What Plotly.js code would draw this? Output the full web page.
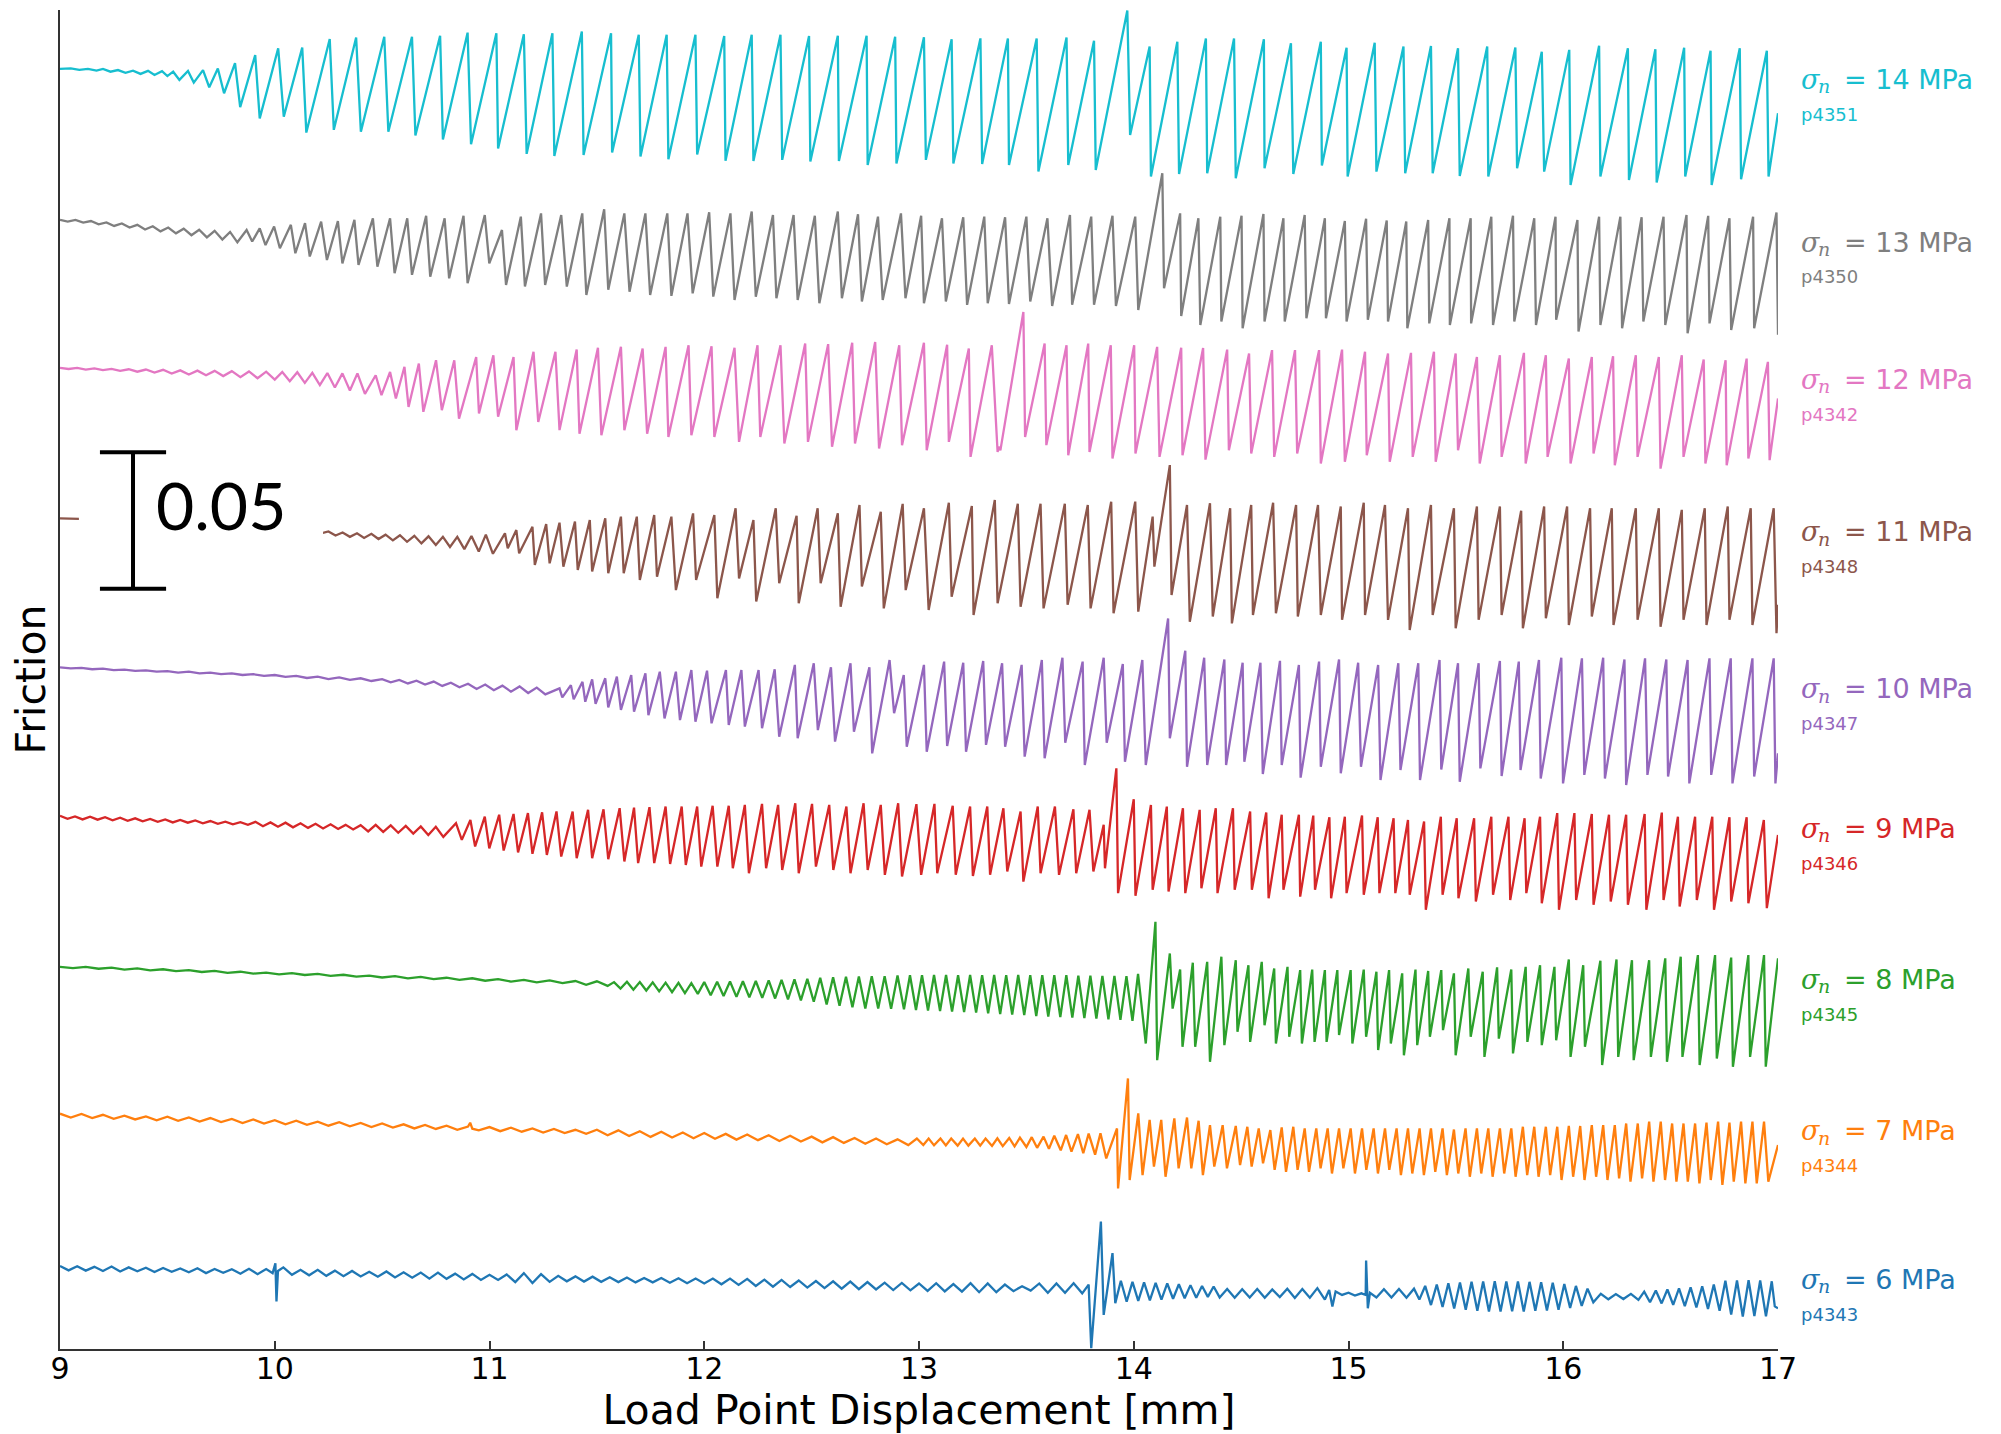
<!DOCTYPE html>
<html><head><meta charset="utf-8">
<script src="https://cdn.plot.ly/plotly-3.0.1.min.js"></script>
<style>html,body{margin:0;padding:0;background:#fff;}#chart{width:2001px;height:1434px;}</style>
</head><body><div id="chart"></div>
<script>
// Normal stress (MPa) and experiment id of each run, top to bottom
const normalStress = [14, 13, 12, 11, 10, 9, 8, 7, 6];
const experimentIds = ['p4351', 'p4350', 'p4342', 'p4348', 'p4347', 'p4346', 'p4345', 'p4344', 'p4343'];
// Friction level (offset curve) at 9 mm for each run
const baseFriction = [0.4689, 0.4136, 0.3594, 0.3043, 0.2497, 0.1948, 0.1400, 0.0857, 0.0296];
const tickValues = [9, 10, 11, 12, 13, 14, 15, 16, 17];

// Each run: [displacement mm, friction change x1000, ...] pairs
const s14 = [9.000,0, 9.05,0.2, 9.09,-0.3, 9.13,0, 9.17,-0.6, 9.20,0, 9.235,-1.0, 9.27,-0.4, 9.305,-1.4, 9.34,-0.6, 9.375,-1.8, 9.41,-0.7, 9.44,-2.2, 9.475,-0.8, 9.50,-2.6,
9.527,-1.0, 9.556,-4.0, 9.596,-0.7, 9.623,-5.0, 9.666,-0.4, 9.695,-6.7, 9.735,0.2, 9.764,-8.9, 9.815,2.1, 9.839,-14.0, 9.909,5.1, 9.930,-18.1, 10.016,7.6, 10.042,-17.5, 10.128,7.8, 10.147,-23.3, 10.256,11.0, 10.275,-22.3, 10.379,11.5, 10.401,-23.0, 10.510,11.8, 10.529,-23.0, 10.639,11.8, 10.655,-24.4, 10.770,12.2, 10.783,-25.8, 10.898,13.3, 10.914,-27.6, 11.032,13.1, 11.040,-29.1, 11.160,12.7, 11.173,-31.1, 11.293,13.1, 11.302,-31.9, 11.430,13.7, 11.438,-31.5, 11.566,13.1, 11.571,-30.6, 11.695,12.5, 11.703,-32.1, 11.825,12.5, 11.833,-33.1, 11.959,12.5, 11.967,-31.3, 12.093,12.1, 12.099,-33.6, 12.221,12.5, 12.229,-33.7, 12.355,12.5, 12.363,-33.3, 12.488,12.1, 12.494,-33.9, 12.622,12.2, 12.627,-33.7, 12.756,12.2, 12.761,-35.2, 12.889,11.8, 12.895,-34.6, 13.023,11.6, 13.032,-33.3, 13.152,10.9, 13.160,-34.6, 13.286,11.2, 13.294,-34.8, 13.414,11.2, 13.419,-35.2, 13.548,11.2, 13.556,-37.6, 13.687,11.5, 13.695,-35.2, 13.815,10.3, 13.823,-37.0, 13.970,21.4, 13.983,-24.2, 14.074,8.2, 14.080,-39.4, 14.203,10.0, 14.211,-38.5, 14.336,11.2, 14.342,-38.2, 14.467,11.2, 14.475,-40.0, 14.606,10.9, 14.609,-36.4, 14.732,9.4, 14.743,-38.5, 14.871,10.0, 14.876,-35.4, 14.991,7.8, 14.996,-39.4, 15.122,9.6, 15.130,-37.6, 15.256,8.2, 15.264,-38.2, 15.384,8.4, 15.392,-38.2, 15.510,7.6, 15.518,-39.2, 15.646,8.2, 15.651,-39.4, 15.777,7.9, 15.785,-36.4, 15.900,6.3, 15.911,-37.6, 16.028,7.0, 16.034,-42.5, 16.167,8.5, 16.173,-39.4, 16.301,7.6, 16.306,-40.7, 16.429,7.2, 16.435,-41.6, 16.563,7.8, 16.568,-39.4, 16.686,6.7, 16.691,-42.5, 16.822,7.6, 16.828,-40.4, 16.948,6.7, 16.956,-39.4, 17.000,-16.2];

const s13 = [9.000,0, 9.036,-0.6, 9.072,0, 9.108,-1.0, 9.144,-0.4, 9.180,-1.6, 9.216,-0.9, 9.252,-2.2, 9.288,-1.3, 9.324,-2.8, 9.360,-1.8, 9.396,-3.5, 9.432,-2.3, 9.468,-4.2, 9.504,-2.8, 9.540,-4.9, 9.576,-3.2, 9.612,-5.6, 9.648,-3.6, 9.684,-6.4, 9.720,-4.0, 9.756,-7.2, 9.792,-4.4, 9.826,-8.2,
9.869,-3.7, 9.895,-7.9, 9.930,-3.1, 9.957,-9.2, 9.997,-2.4, 10.024,-10.4, 10.075,-1.8, 10.096,-12.2, 10.141,-1.2, 10.163,-13.4, 10.216,-0.6, 10.243,-14.7, 10.294,-0.4, 10.315,-15.9, 10.371,0, 10.390,-16.5, 10.457,0.6, 10.478,-17.1, 10.537,0.6, 10.558,-19.5, 10.617,0.6, 10.639,-20.1, 10.705,1.5, 10.724,-20.8, 10.791,0.6, 10.812,-21.4, 10.879,1.5, 10.898,-23.2, 10.978,1.8, 10.999,-15.9, 11.058,-3.7, 11.077,-23.8, 11.146,1.2, 11.165,-24.4, 11.240,2.4, 11.259,-23.8, 11.334,1.8, 11.360,-24.4, 11.432,2.4, 11.451,-27.5, 11.534,3.9, 11.553,-25.6, 11.628,2.4, 11.652,-26.3, 11.726,2.4, 11.748,-27.5, 11.828,2.4, 11.847,-27.8, 11.922,2.4, 11.946,-26.9, 12.023,2.8, 12.042,-28.1, 12.122,2.4, 12.141,-29.3, 12.221,3.1, 12.240,-28.1, 12.320,1.8, 12.336,-28.7, 12.416,1.8, 12.435,-29.3, 12.515,1.5, 12.536,-30.5, 12.622,3.1, 12.641,-28.7, 12.716,2.1, 12.734,-29.9, 12.809,1.2, 12.831,-29.3, 12.916,2.4, 12.937,-28.7, 13.010,1.5, 13.023,-30.5, 13.107,0.6, 13.125,-29.9, 13.206,1.0, 13.224,-31.1, 13.304,1.2, 13.320,-30.5, 13.401,1.0, 13.419,-30.8, 13.500,1.2, 13.518,-29.9, 13.598,0.6, 13.620,-31.5, 13.703,1.8, 13.713,-31.1, 13.802,1.2, 13.815,-31.1, 13.901,1.5, 13.917,-31.5, 14.007,1.2, 14.021,-33.0, 14.133,17.1, 14.141,-25.0, 14.216,2.4, 14.221,-35.2, 14.301,0.6, 14.310,-38.5, 14.403,1.2, 14.408,-37.2, 14.502,1.5, 14.507,-39.7, 14.604,2.2, 14.609,-37.2, 14.697,0.6, 14.703,-37.2, 14.796,1.8, 14.804,-36.0, 14.890,0.6, 14.895,-36.0, 14.983,-0.4, 14.991,-37.2, 15.082,0.4, 15.090,-36.6, 15.178,-0.2, 15.184,-37.2, 15.269,-0.6, 15.274,-39.7, 15.371,0, 15.376,-37.9, 15.470,0.6, 15.472,-38.5, 15.569,0.6, 15.571,-37.9, 15.665,1.2, 15.673,-38.5, 15.766,1.5, 15.772,-37.2, 15.865,0.6, 15.873,-38.5, 15.964,1.2, 15.967,-36.6, 16.066,0, 16.071,-40.9, 16.167,1.2, 16.173,-38.5, 16.266,1.2, 16.274,-39.7, 16.365,1.0, 16.373,-37.2, 16.467,1.2, 16.475,-38.5, 16.574,1.8, 16.579,-41.5, 16.675,1.5, 16.681,-37.9, 16.774,0.6, 16.782,-40.3, 16.884,1.2, 16.889,-39.7, 16.993,2.7, 17.000,-42.1];

const s12 = [9.00,0, 9.04,-0.4, 9.08,0, 9.12,-0.6, 9.16,-0.2, 9.20,-0.8, 9.24,-0.4, 9.28,-1.1, 9.32,-0.5, 9.36,-1.4, 9.40,-0.6, 9.44,-1.7, 9.48,-0.7, 9.52,-2.1, 9.56,-0.9, 9.60,-2.4, 9.64,-1.0, 9.68,-2.7, 9.72,-1.1, 9.76,-3.0, 9.80,-1.2, 9.84,-3.4, 9.88,-1.3, 9.92,-3.8, 9.96,-1.4, 10.00,-4.3, 10.035,-1.5, 10.07,-4.9, 10.105,-1.6, 10.14,-5.5, 10.175,-1.8, 10.21,-6.3, 10.245,-1.9, 10.28,-7.2, 10.315,-2.0, 10.35,-8.3, 10.385,-2.0, 10.42,-9.5,
10.470,-2.7, 10.497,-10.0, 10.537,-1.5, 10.564,-11.2, 10.604,0.4, 10.623,-14.3, 10.671,1.6, 10.692,-16.1, 10.751,2.8, 10.778,-15.5, 10.836,2.8, 10.858,-18.6, 10.938,4.0, 10.951,-16.7, 11.018,4.6, 11.040,-17.9, 11.112,4.0, 11.125,-22.8, 11.205,5.9, 11.227,-19.8, 11.307,5.9, 11.326,-22.8, 11.406,6.7, 11.419,-24.1, 11.505,7.4, 11.521,-24.7, 11.612,7.7, 11.628,-22.8, 11.713,7.1, 11.734,-24.1, 11.820,7.7, 11.833,-25.3, 11.927,8.3, 11.940,-24.7, 12.034,7.9, 12.047,-25.3, 12.141,7.4, 12.162,-27.1, 12.248,8.3, 12.261,-25.3, 12.355,8.3, 12.373,-27.7, 12.470,8.9, 12.483,-27.1, 12.577,8.7, 12.595,-28.9, 12.689,9.2, 12.702,-27.7, 12.796,9.5, 12.814,-29.5, 12.908,8.3, 12.921,-28.3, 13.023,9.2, 13.036,-30.2, 13.131,8.5, 13.139,-27.1, 13.232,7.1, 13.240,-32.6, 13.339,8.3, 13.366,-30.8, 13.371,-28.9, 13.379,-30.2, 13.486,20.5, 13.494,-25.3, 13.585,8.9, 13.593,-28.3, 13.687,8.3, 13.695,-32.0, 13.788,8.9, 13.794,-30.8, 13.893,8.3, 13.901,-33.2, 14.002,8.3, 14.008,-31.4, 14.109,7.7, 14.120,-32.6, 14.221,7.4, 14.227,-32.0, 14.323,7.3, 14.334,-33.6, 14.435,6.7, 14.443,-30.2, 14.537,5.3, 14.547,-31.4, 14.644,6.5, 14.654,-32.6, 14.751,6.5, 14.761,-31.4, 14.863,6.5, 14.871,-35.0, 14.970,6.7, 14.983,-34.4, 15.077,5.9, 15.085,-32.0, 15.184,5.3, 15.192,-34.4, 15.291,5.5, 15.299,-32.6, 15.398,5.9, 15.406,-34.4, 15.499,5.3, 15.510,-30.2, 15.598,4.0, 15.611,-35.0, 15.705,4.6, 15.713,-32.6, 15.817,5.5, 15.825,-35.0, 15.919,4.6, 15.927,-32.6, 16.026,3.4, 16.034,-35.0, 16.133,4.0, 16.141,-31.4, 16.232,4.3, 16.240,-35.7, 16.338,4.6, 16.346,-32.6, 16.445,4.0, 16.453,-36.9, 16.552,4.6, 16.560,-32.6, 16.654,3.1, 16.662,-35.0, 16.756,2.8, 16.761,-35.7, 16.854,3.4, 16.862,-33.2, 16.953,2.2, 16.961,-33.8, 17.000,-11.2];

const s11 = [9.000,0, 9.09,-0.2, 9.6,-2.5, 10.216,-5.5, 10.25,-4.8, 10.283,-6.3, 10.316,-5.2, 10.35,-6.8, 10.383,-5.5, 10.416,-7.2, 10.45,-5.7, 10.483,-7.6, 10.516,-6.0, 10.55,-8.1, 10.583,-6.2, 10.616,-8.6, 10.65,-6.4, 10.683,-9.2, 10.716,-6.6, 10.75,-9.8, 10.783,-6.8, 10.816,-10.5, 10.85,-6.8, 10.883,-11.3, 10.916,-6.5, 10.95,-12.2, 10.983,-6.0, 11.016,-13.0,
11.072,-5.5, 11.085,-11.0, 11.125,-4.3, 11.138,-12.8, 11.200,-3.1, 11.211,-17.1, 11.264,-2.1, 11.280,-16.5, 11.326,-1.6, 11.344,-17.7, 11.398,-1.2, 11.411,-18.9, 11.467,-0.6, 11.478,-19.5, 11.539,0, 11.553,-20.1, 11.612,0.6, 11.625,-20.1, 11.686,0.6, 11.700,-22.6, 11.767,1.2, 11.780,-21.4, 11.847,0.6, 11.868,-26.3, 11.948,1.8, 11.962,-22.6, 12.047,1.2, 12.061,-29.3, 12.146,3.7, 12.162,-22.0, 12.229,-0.6, 12.242,-30.5, 12.333,3.7, 12.349,-23.8, 12.430,0.9, 12.440,-31.1, 12.528,3.7, 12.542,-23.8, 12.622,1.8, 12.635,-32.4, 12.723,4.9, 12.734,-25.0, 12.822,2.4, 12.836,-33.0, 12.924,5.3, 12.938,-26.3, 13.023,3.7, 13.045,-33.6, 13.139,5.7, 13.152,-28.7, 13.246,4.5, 13.254,-35.4, 13.353,6.7, 13.366,-31.1, 13.460,5.3, 13.473,-32.4, 13.566,5.3, 13.580,-33.0, 13.679,5.3, 13.692,-31.7, 13.786,4.9, 13.799,-33.0, 13.895,6.1, 13.906,-34.8, 14.007,6.1, 14.021,-34.2, 14.088,0.6, 14.096,-17.7, 14.168,19.5, 14.176,-28.1, 14.248,4.9, 14.261,-37.9, 14.355,5.5, 14.368,-36.0, 14.449,3.7, 14.457,-38.5, 14.547,4.9, 14.555,-35.4, 14.649,5.7, 14.662,-34.8, 14.756,4.9, 14.764,-36.0, 14.858,4.9, 14.871,-35.4, 14.964,4.3, 14.970,-37.2, 15.071,5.7, 15.077,-35.4, 15.170,4.9, 15.184,-37.2, 15.277,3.7, 15.285,-40.9, 15.384,4.9, 15.392,-35.4, 15.491,3.7, 15.499,-40.3, 15.598,4.3, 15.606,-37.2, 15.705,4.3, 15.713,-35.4, 15.804,2.8, 15.812,-40.3, 15.911,4.3, 15.919,-36.6, 16.018,4.3, 16.026,-39.1, 16.125,3.7, 16.133,-36.0, 16.226,3.7, 16.234,-39.1, 16.338,3.7, 16.346,-37.2, 16.445,3.7, 16.453,-39.7, 16.552,3.1, 16.560,-37.2, 16.659,3.7, 16.667,-39.1, 16.766,4.3, 16.774,-37.2, 16.873,3.7, 16.881,-39.1, 16.980,3.7, 16.993,-42.1, 17.000,-31.7];

const s10 = [9.00,0, 9.05,-0.4, 9.10,-0.2, 9.15,-0.7, 9.20,-0.5, 9.25,-1.0, 9.30,-0.8, 9.35,-1.3, 9.40,-1.1, 9.45,-1.6, 9.50,-1.4, 9.55,-1.9, 9.60,-1.6, 9.65,-2.2, 9.70,-1.9, 9.75,-2.5, 9.80,-2.2, 9.85,-2.8, 9.90,-2.5, 9.95,-3.1, 10.00,-2.8, 10.05,-3.5, 10.10,-3.1, 10.15,-3.9, 10.20,-3.4, 10.25,-4.3, 10.30,-3.7, 10.35,-4.6, 10.40,-4.0, 10.45,-5.0, 10.50,-4.3, 10.54,-5.5, 10.58,-4.6, 10.62,-5.9, 10.66,-4.9, 10.70,-6.3, 10.74,-5.2, 10.78,-6.8, 10.82,-5.6, 10.86,-7.3, 10.90,-6.0, 10.94,-7.9, 10.98,-6.3, 11.02,-8.4, 11.06,-6.7, 11.10,-8.9, 11.14,-7.0, 11.18,-9.4, 11.22,-7.4, 11.26,-9.9,
11.326,-7.7, 11.339,-11.0, 11.379,-6.5, 11.392,-11.7, 11.433,-5.3, 11.446,-12.6, 11.478,-4.4, 11.494,-13.4, 11.539,-4.0, 11.553,-14.7, 11.593,-3.4, 11.612,-15.6, 11.660,-2.8, 11.673,-16.2, 11.726,-2.2, 11.740,-17.5, 11.793,-1.6, 11.815,-18.7, 11.868,-1.6, 11.887,-19.3, 11.940,-1.0, 11.959,-19.9, 12.013,-1.2, 12.034,-20.5, 12.101,-1.0, 12.114,-21.1, 12.173,-1.0, 12.189,-21.7, 12.253,-1.0, 12.269,-22.3, 12.328,-0.7, 12.349,-25.4, 12.422,0.9, 12.435,-26.0, 12.510,1.5, 12.529,-23.0, 12.590,0, 12.609,-27.2, 12.681,1.5, 12.697,-23.6, 12.769,0, 12.782,-31.5, 12.863,2.7, 12.884,-16.8, 12.929,-2.8, 12.943,-29.1, 13.023,0.9, 13.036,-30.9, 13.117,2.1, 13.131,-28.8, 13.206,1.7, 13.219,-30.9, 13.299,2.3, 13.312,-28.4, 13.387,1.5, 13.401,-29.1, 13.478,0.9, 13.492,-32.7, 13.572,2.7, 13.585,-33.3, 13.668,3.5, 13.681,-27.6, 13.762,2.1, 13.772,-35.8, 13.860,3.5, 13.874,-27.6, 13.949,1.2, 13.959,-34.6, 14.040,2.7, 14.056,-35.8, 14.160,17.9, 14.168,-26.0, 14.240,6.1, 14.248,-36.4, 14.328,3.5, 14.342,-35.8, 14.422,2.9, 14.430,-35.8, 14.507,1.7, 14.515,-34.6, 14.590,1.7, 14.601,-39.1, 14.681,2.4, 14.689,-35.8, 14.769,0.9, 14.777,-40.4, 14.863,2.1, 14.871,-36.4, 14.956,2.9, 14.964,-38.8, 15.045,1.7, 15.058,-36.4, 15.138,0.9, 15.149,-41.3, 15.232,1.5, 15.242,-37.6, 15.325,1.5, 15.333,-41.3, 15.424,2.7, 15.432,-37.4, 15.510,1.5, 15.518,-41.9, 15.606,1.5, 15.614,-37.0, 15.705,2.3, 15.713,-39.8, 15.793,2.1, 15.801,-37.6, 15.887,2.7, 15.895,-40.7, 15.991,3.5, 15.999,-42.5, 16.087,3.3, 16.098,-39.4, 16.186,3.5, 16.194,-40.7, 16.285,2.9, 16.293,-43.1, 16.381,3.3, 16.392,-39.4, 16.480,2.9, 16.488,-40.0, 16.579,2.7, 16.587,-42.5, 16.681,3.3, 16.689,-39.4, 16.780,3.3, 16.788,-42.5, 16.881,3.3, 16.889,-40.0, 16.980,3.3, 16.988,-42.5, 17.000,-31.5];

const s9 = [9.000,0.5, 9.035,-0.6, 9.070,0.3, 9.105,-0.8, 9.140,0.2, 9.175,-0.9, 9.210,0, 9.245,-1.1, 9.280,-0.2, 9.315,-1.3, 9.350,-0.4, 9.385,-1.5, 9.420,-0.6, 9.455,-1.7, 9.490,-0.8, 9.525,-1.9, 9.560,-1.0, 9.595,-2.0, 9.630,-1.2, 9.665,-2.2, 9.700,-1.4, 9.735,-2.4, 9.770,-1.6, 9.805,-2.6, 9.840,-1.8, 9.875,-2.8, 9.910,-1.7, 9.945,-3.3, 9.980,-1.9, 10.015,-3.5, 10.050,-2.0, 10.085,-3.7, 10.120,-2.2, 10.155,-3.9, 10.190,-2.4, 10.225,-4.1, 10.260,-2.6, 10.295,-4.3, 10.330,-2.8, 10.365,-4.5, 10.400,-2.9, 10.435,-5.2, 10.470,-2.8, 10.505,-5.4, 10.540,-3.0, 10.575,-5.7, 10.610,-3.2, 10.645,-6.0, 10.680,-3.4, 10.715,-6.5, 10.750,-3.5, 10.785,-7.2,
10.844,-2.2, 10.871,-8.3, 10.911,-1.0, 10.933,-10.7, 10.978,0.2, 10.999,-11.4, 11.045,0.9, 11.066,-12.2, 11.112,1.2, 11.133,-12.9, 11.179,1.5, 11.200,-13.4, 11.245,1.8, 11.267,-13.8, 11.312,2.1, 11.334,-14.4, 11.387,2.1, 11.406,-15.0, 11.459,2.7, 11.478,-15.0, 11.531,2.9, 11.553,-15.4, 11.606,3.3, 11.628,-16.2, 11.673,3.5, 11.692,-16.8, 11.745,3.7, 11.767,-16.8, 11.820,3.9, 11.841,-17.1, 11.895,3.9, 11.914,-17.5, 11.967,3.9, 11.986,-18.1, 12.039,4.2, 12.061,-18.1, 12.114,4.2, 12.133,-18.7, 12.189,4.5, 12.208,-20.5, 12.269,4.9, 12.288,-18.7, 12.344,4.5, 12.363,-19.3, 12.424,5.1, 12.440,-20.5, 12.502,4.9, 12.520,-18.1, 12.582,4.5, 12.601,-19.3, 12.662,3.9, 12.681,-20.5, 12.742,5.1, 12.761,-19.3, 12.822,4.5, 12.841,-21.1, 12.903,5.1, 12.921,-21.7, 12.988,4.8, 13.010,-21.1, 13.072,4.9, 13.085,-20.5, 13.157,4.2, 13.171,-21.1, 13.238,3.9, 13.251,-21.5, 13.318,3.9, 13.331,-21.1, 13.393,3.3, 13.411,-19.9, 13.473,2.1, 13.486,-23.6, 13.553,3.9, 13.566,-20.5, 13.633,3.9, 13.652,-21.1, 13.719,2.9, 13.732,-20.5, 13.794,2.7, 13.812,-19.9, 13.860,-2.8, 13.866,-18.7, 13.919,17.9, 13.927,-27.8, 14.000,6.6, 14.008,-28.8, 14.080,4.5, 14.088,-26.6, 14.154,3.9, 14.162,-27.2, 14.229,3.3, 14.240,-27.8, 14.307,2.7, 14.315,-26.0, 14.382,3.3, 14.390,-27.8, 14.462,3.3, 14.470,-26.6, 14.542,2.1, 14.550,-26.6, 14.617,1.7, 14.628,-29.7, 14.689,0.9, 14.697,-26.6, 14.769,0.9, 14.775,-29.1, 14.836,0.6, 14.844,-26.6, 14.911,0, 14.919,-29.7, 14.983,0.2, 14.991,-27.8, 15.063,0.6, 15.071,-28.4, 15.136,0, 15.144,-27.8, 15.210,-0.4, 15.218,-27.8, 15.277,-1.0, 15.285,-28.4, 15.352,-1.6, 15.360,-33.9, 15.430,0.2, 15.438,-28.4, 15.504,-0.4, 15.512,-29.7, 15.585,-0.4, 15.593,-30.9, 15.665,0.2, 15.673,-28.4, 15.745,0.2, 15.753,-30.3, 15.820,-0.4, 15.828,-27.8, 15.892,0.2, 15.900,-31.5, 15.972,1.5, 15.980,-33.9, 16.052,1.5, 16.060,-30.3, 16.133,1.2, 16.141,-32.1, 16.213,0.9, 16.221,-30.9, 16.293,0.9, 16.301,-32.1, 16.379,1.2, 16.387,-33.9, 16.459,1.7, 16.467,-30.3, 16.534,0.2, 16.542,-32.7, 16.614,0.2, 16.622,-30.3, 16.694,0.2, 16.702,-33.9, 16.774,0, 16.782,-30.9, 16.854,0, 16.862,-31.5, 16.934,-1.0, 16.948,-33.3, 17.000,-6.5];

const s8 = [9.00,0, 9.06,-0.5, 9.12,0, 9.18,-0.7, 9.24,-0.3, 9.30,-1.0, 9.36,-0.6, 9.42,-1.3, 9.48,-0.9, 9.54,-1.6, 9.60,-1.2, 9.66,-1.9, 9.72,-1.5, 9.78,-2.2, 9.84,-1.8, 9.90,-2.5, 9.96,-2.1, 10.02,-2.8, 10.08,-2.3, 10.14,-3.0, 10.20,-2.6, 10.26,-3.3, 10.32,-2.9, 10.38,-3.6, 10.44,-3.2, 10.50,-3.9, 10.56,-3.4, 10.62,-4.2, 10.68,-3.7, 10.74,-4.5, 10.80,-4.0, 10.86,-4.8, 10.92,-4.2, 10.98,-5.1, 11.04,-4.5, 11.10,-5.4, 11.16,-4.8, 11.22,-5.7, 11.28,-5.0, 11.34,-6.0, 11.40,-5.2, 11.45,-6.6, 11.50,-5.3, 11.55,-7.0, 11.58,-5.6, 11.61,-8.0, 11.64,-5.5, 11.67,-8.4, 11.70,-5.6, 11.73,-8.7, 11.76,-5.7, 11.79,-9.0, 11.82,-5.8, 11.85,-9.3, 11.88,-5.9, 11.91,-9.6, 11.94,-6.0, 11.97,-9.9, 12.00,-5.6, 12.03,-10.4, 12.06,-5.5, 12.09,-10.7, 12.12,-5.4, 12.15,-11.0, 12.18,-5.3, 12.21,-11.2, 12.24,-5.2, 12.27,-11.4, 12.30,-5.0, 12.33,-11.6, 12.36,-4.8, 12.39,-11.9, 12.42,-4.6, 12.45,-12.3, 12.48,-4.4, 12.51,-12.8, 12.54,-4.0, 12.57,-13.8, 12.60,-3.8, 12.63,-14.3, 12.66,-3.6, 12.69,-14.8, 12.72,-3.5, 12.75,-15.3, 12.78,-3.4, 12.81,-15.3, 12.84,-3.4, 12.87,-15.4, 12.90,-3.2, 12.93,-15.6, 12.958,-3.1, 12.986,-15.8, 13.014,-3.1, 13.042,-16.0, 13.070,-3.0, 13.098,-16.2, 13.126,-3.0, 13.154,-16.4, 13.182,-3.1, 13.210,-16.6, 13.238,-3.0, 13.266,-16.8, 13.294,-3.1, 13.322,-17.0, 13.350,-3.0, 13.378,-17.3, 13.406,-3.1, 13.434,-17.5, 13.462,-3.0, 13.490,-17.7, 13.518,-3.1, 13.546,-18.0, 13.574,-3.1, 13.602,-18.2, 13.630,-3.1, 13.658,-18.4, 13.686,-3.1, 13.714,-18.6, 13.742,-3.2, 13.770,-18.8, 13.798,-3.2, 13.826,-19.0, 13.854,-3.3, 13.882,-19.2, 13.910,-3.3, 13.938,-19.4, 13.966,-3.4, 13.994,-19.8, 14.020,-2.6, 14.056,-28.1, 14.101,16.5, 14.109,-34.2, 14.168,4.9, 14.181,-15.3, 14.216,-1.0, 14.227,-29.3, 14.275,1.5, 14.286,-29.3, 14.342,1.8, 14.355,-34.8, 14.408,3.7, 14.422,-28.7, 14.475,2.4, 14.483,-23.8, 14.534,0.6, 14.542,-27.5, 14.596,1.8, 14.609,-21.4, 14.654,-0.6, 14.662,-28.1, 14.716,0, 14.724,-25.6, 14.775,-1.2, 14.783,-28.1, 14.831,-1.0, 14.842,-27.5, 14.890,-1.2, 14.898,-27.5, 14.948,-1.2, 14.956,-25.0, 15.010,-1.2, 15.018,-28.1, 15.071,-1.0, 15.082,-25.6, 15.130,-1.8, 15.138,-30.5, 15.189,-1.2, 15.197,-28.1, 15.250,-2.4, 15.258,-32.4, 15.312,-1.0, 15.320,-28.7, 15.371,-1.5, 15.379,-25.6, 15.432,-1.2, 15.440,-23.2, 15.491,-2.4, 15.499,-32.4, 15.558,-0.6, 15.569,-25.6, 15.625,-1.8, 15.633,-33.0, 15.692,-0.2, 15.700,-26.3, 15.758,-1.0, 15.766,-31.7, 15.825,0, 15.833,-27.5, 15.892,0.6, 15.900,-28.7, 15.959,0, 15.967,-26.9, 16.026,2.7, 16.034,-33.0, 16.093,0.6, 16.101,-29.3, 16.173,2.2, 16.181,-36.0, 16.248,2.7, 16.256,-33.0, 16.320,2.4, 16.328,-34.2, 16.400,2.4, 16.408,-33.0, 16.475,3.1, 16.483,-34.8, 16.547,3.7, 16.555,-33.0, 16.627,4.3, 16.635,-36.0, 16.707,4.3, 16.715,-33.6, 16.782,3.4, 16.790,-36.6, 16.862,4.3, 16.870,-33.0, 16.935,4.3, 16.943,-36.6, 17.000,3.1];

const s7 = [9.00,0.5, 9.05,-0.9, 9.10,0.4, 9.15,-1.1, 9.20,0.1, 9.25,-1.4, 9.30,-0.2, 9.35,-1.6, 9.40,-0.5, 9.45,-1.9, 9.50,-0.6, 9.55,-2.1, 9.60,-0.9, 9.65,-2.4, 9.70,-1.1, 9.75,-2.6, 9.80,-1.4, 9.85,-2.9, 9.90,-1.6, 9.95,-3.1, 10.00,-1.9, 10.05,-3.4, 10.10,-2.1, 10.15,-3.6, 10.20,-2.4, 10.25,-3.9, 10.30,-2.6, 10.35,-4.1, 10.40,-2.9, 10.45,-4.4, 10.50,-3.1, 10.55,-4.6, 10.60,-3.4, 10.65,-4.9, 10.70,-3.6, 10.75,-5.1, 10.80,-3.9, 10.85,-5.4, 10.90,-4.2, 10.91,-2.8, 10.92,-5.0, 10.95,-5.6, 11.00,-4.4, 11.05,-5.9, 11.10,-4.6, 11.15,-6.1, 11.20,-4.9, 11.25,-6.4, 11.30,-5.1, 11.35,-6.6, 11.40,-5.4, 11.45,-6.9, 11.50,-5.4, 11.55,-7.4, 11.60,-5.6, 11.65,-7.7, 11.70,-5.9, 11.75,-8.0, 11.80,-6.1, 11.85,-8.2, 11.90,-6.4, 11.95,-8.5, 12.00,-6.6, 12.05,-8.7, 12.10,-6.9, 12.15,-9.0, 12.20,-7.1, 12.25,-9.2, 12.30,-7.4, 12.35,-9.5, 12.40,-7.6, 12.45,-9.7, 12.50,-7.9, 12.55,-10.0, 12.60,-8.1, 12.65,-10.2, 12.70,-8.4, 12.75,-10.5, 12.80,-8.6, 12.85,-10.7, 12.90,-8.9, 12.95,-11.0,
12.99,-8.6, 13.02,-11.0, 13.045,-8.6, 13.07,-11.1, 13.10,-8.6, 13.125,-11.1, 13.15,-8.6, 13.18,-11.2, 13.205,-8.6, 13.23,-11.2, 13.26,-8.6, 13.285,-11.2, 13.31,-8.6, 13.34,-11.3, 13.365,-8.5, 13.39,-11.4, 13.42,-8.4, 13.445,-11.5, 13.47,-8.3, 13.50,-11.7, 13.525,-8.1, 13.55,-12.0, 13.58,-7.9, 13.605,-12.4, 13.63,-7.6, 13.66,-12.9, 13.685,-7.3, 13.71,-13.4, 13.74,-7.0, 13.765,-14.0, 13.79,-6.8, 13.82,-14.5, 13.845,-6.7, 13.872,-15.9, 13.922,-4.9, 13.927,-26.9, 13.973,13.4, 13.981,-23.8,
14.021,0.6, 14.041,-22.0, 14.074,-1.8, 14.094,-18.9, 14.128,-1.8, 14.148,-22.6, 14.189,-1.2, 14.209,-19.5, 14.248,-0.9, 14.268,-19.5, 14.302,-2.1, 14.322,-22.0, 14.355,-3.7, 14.375,-18.9, 14.414,-3.7, 14.434,-19.5, 14.475,-4.0, 14.495,-18.3, 14.529,-4.3, 14.549,-18.9, 14.582,-4.9, 14.602,-17.7, 14.636,-5.5, 14.656,-20.1, 14.689,-4.5, 14.709,-20.8, 14.743,-4.3, 14.763,-20.1, 14.796,-4.9, 14.816,-20.8, 14.850,-4.9, 14.870,-19.5, 14.903,-4.9, 14.923,-21.4, 14.956,-4.9, 14.976,-19.5, 15.010,-4.9, 15.030,-21.4, 15.063,-4.9, 15.083,-20.1, 15.117,-4.9, 15.137,-21.4, 15.170,-4.9, 15.190,-20.1, 15.224,-4.9, 15.244,-22.0, 15.277,-4.9, 15.297,-21.4, 15.331,-4.9, 15.351,-22.0, 15.384,-4.9, 15.404,-20.8, 15.438,-4.9, 15.458,-22.0, 15.491,-5.3, 15.511,-21.4, 15.545,-4.9, 15.565,-22.6, 15.598,-4.9, 15.618,-21.4, 15.651,-4.9, 15.671,-22.6, 15.705,-4.9, 15.725,-21.4, 15.758,-4.9, 15.778,-22.6, 15.812,-4.3, 15.832,-22.0, 15.865,-4.3, 15.885,-22.6, 15.919,-4.3, 15.939,-22.0, 15.972,-4.3, 15.992,-23.8, 16.026,-4.0, 16.046,-22.6, 16.079,-4.0, 16.099,-23.8, 16.133,-3.7, 16.153,-22.6, 16.186,-3.7, 16.206,-23.8, 16.240,-3.7, 16.260,-23.2, 16.293,-3.1, 16.313,-24.4, 16.347,-3.1, 16.367,-23.2, 16.400,-2.4, 16.420,-24.4, 16.454,-2.4, 16.474,-23.8, 16.507,-3.1, 16.527,-24.4, 16.560,-3.1, 16.580,-24.4, 16.614,-3.1, 16.634,-25.0, 16.667,-2.8, 16.687,-23.8, 16.721,-2.4, 16.741,-25.6, 16.774,-2.8, 16.794,-24.4, 16.828,-2.4, 16.848,-25.0, 16.881,-2.4, 16.901,-25.0, 16.935,-2.4, 16.955,-24.4, 17.000,-11.0];

const s6 = [9.00,0.8, 9.04,-0.8, 9.08,0.7, 9.12,-0.9, 9.16,0.5, 9.20,-1.0, 9.24,0.6, 9.28,-1.2, 9.32,0.3, 9.36,-1.1, 9.40,0.2, 9.44,-1.4, 9.48,0.1, 9.52,-1.3, 9.56,-0.1, 9.60,-1.5, 9.64,0, 9.68,-1.8, 9.72,-0.3, 9.76,-1.7, 9.80,-0.4, 9.84,-2.0, 9.88,-0.2, 9.92,-2.2, 9.96,-0.3, 9.99,-1.8, 10.003,1.8, 10.008,-12.2, 10.015,-1.0, 10.04,0.3, 10.08,-2.4, 10.12,-0.6, 10.16,-2.6, 10.20,-0.6, 10.24,-2.8, 10.28,-0.9, 10.32,-2.9, 10.36,-1.0, 10.40,-3.0, 10.44,-1.3, 10.48,-3.1, 10.52,-1.2, 10.56,-3.4, 10.60,-1.5, 10.64,-3.5, 10.68,-1.6, 10.72,-3.8, 10.76,-1.6, 10.80,-3.9, 10.84,-2.0, 10.88,-4.1, 10.92,-2.1, 10.96,-4.3, 11.00,-2.4, 11.04,-4.3, 11.08,-2.3, 11.12,-5.1, 11.16,-1.8, 11.20,-5.4, 11.24,-2.2, 11.28,-5.0, 11.32,-2.8, 11.36,-4.8, 11.40,-3.0, 11.44,-4.9, 11.48,-3.1, 11.52,-5.0, 11.56,-3.3, 11.60,-5.1, 11.64,-3.4, 11.68,-5.2, 11.72,-3.6, 11.76,-5.2, 11.80,-3.6, 11.84,-5.3, 11.88,-3.7, 11.92,-5.5, 11.96,-3.8, 12.00,-5.6, 12.04,-3.8, 12.08,-5.9, 12.12,-3.8, 12.16,-6.1, 12.20,-3.9, 12.24,-6.5, 12.28,-4.2, 12.32,-6.8, 12.36,-4.3, 12.40,-6.9, 12.44,-4.5, 12.48,-7.1, 12.52,-4.7, 12.56,-7.3, 12.60,-4.8, 12.64,-7.5, 12.68,-4.9, 12.72,-7.7, 12.76,-5.1, 12.80,-7.8, 12.84,-5.3, 12.88,-8.0, 12.92,-5.4, 12.96,-8.1, 13.00,-5.6, 13.04,-8.3, 13.08,-5.5, 13.12,-8.5, 13.16,-5.8, 13.20,-8.6, 13.24,-5.5, 13.28,-8.8, 13.32,-5.6, 13.36,-8.8, 13.40,-6.0, 13.44,-8.4, 13.48,-6.6, 13.52,-8.2, 13.56,-5.6, 13.60,-9.0, 13.64,-5.6, 13.68,-9.0, 13.72,-5.5, 13.76,-9.2, 13.79,-6.0,
13.802,-29.3, 13.847,17.1, 13.860,-17.1, 13.901,5.5, 13.914,-12.8,
13.94,-4.6, 13.967,-12.3, 13.994,-5.0, 14.021,-12.0, 14.048,-5.2, 14.075,-11.8, 14.102,-5.4, 14.129,-11.5, 14.156,-5.6, 14.183,-11.2, 14.210,-5.9, 14.237,-11.0, 14.264,-6.2, 14.291,-10.8, 14.318,-6.5, 14.345,-10.5, 14.372,-6.7, 14.40,-10.7,
14.435,-7.6, 14.47,-10.8, 14.505,-7.7, 14.54,-10.7, 14.575,-7.6, 14.61,-10.8, 14.645,-7.8, 14.68,-10.6, 14.715,-7.5, 14.75,-10.9, 14.785,-7.6, 14.82,-10.8, 14.855,-7.3, 14.89,-11.5, 14.91,-8.0, 14.925,-14.0, 14.94,-8.5,
14.97,-9.8, 15.00,-9.0, 15.03,-10.0, 15.06,-9.2, 15.08,-9.8, 15.082,2.8, 15.090,-14.7, 15.10,-9.0,
15.13,-10.7, 15.165,-7.7, 15.20,-10.7, 15.235,-7.6, 15.27,-10.8, 15.305,-7.5, 15.33,-11.5,
15.357,-6.5, 15.384,-13.5, 15.411,-6.0, 15.438,-14.2, 15.465,-5.5, 15.492,-14.8, 15.519,-5.2, 15.546,-15.2, 15.573,-5.0, 15.600,-15.6, 15.627,-4.9, 15.654,-15.9, 15.681,-4.8, 15.708,-15.9, 15.735,-4.9, 15.762,-15.8, 15.789,-4.9, 15.816,-15.9, 15.843,-5.0, 15.870,-15.6, 15.897,-5.1, 15.924,-15.5, 15.951,-5.3, 15.978,-15.2, 16.005,-5.8, 16.032,-14.6, 16.059,-6.5, 16.086,-13.8, 16.113,-7.5, 16.14,-12.5,
16.175,-9.4, 16.21,-11.4, 16.245,-9.5, 16.28,-11.3, 16.315,-9.4, 16.35,-11.6,
16.377,-8.6, 16.404,-12.5, 16.431,-8.2, 16.458,-12.9, 16.485,-7.8, 16.512,-13.4, 16.539,-7.4, 16.566,-13.9, 16.593,-7.0, 16.620,-14.4, 16.647,-6.6, 16.674,-14.9, 16.701,-6.0, 16.728,-15.6,
16.755,-4.6, 16.782,-17.0, 16.809,-4.5, 16.836,-17.7, 16.863,-4.4, 16.890,-17.5, 16.917,-4.5, 16.944,-17.6, 16.971,-4.8, 16.985,-14.0, 17.000,-14.7];

const runs = [s14, s13, s12, s11, s10, s9, s8, s7, s6];
const colors = ['#17becf', '#7f7f7f', '#e377c2', '#8c564b', '#9467bd', '#d62728', '#2ca02c', '#ff7f0e', '#1f77b4'];
const scaleBarLength = 0.05;

const traces = runs.map((r, i) => {
  const x = [], y = [];
  for (let k = 0; k + 1 < r.length; k += 2) { x.push(r[k]); y.push(baseFriction[i] + r[k + 1] / 1000); }
  return { type: 'scatter', mode: 'lines', x: x, y: y, line: { color: colors[i], width: 2.3 },
           hoverinfo: 'skip', showlegend: false, name: experimentIds[i] };
});

// label placement (layout) in friction units; x in paper units just right of the plot
const labelY = [0.4652, 0.4055, 0.3553, 0.2993, 0.2418, 0.1908, 0.1355, 0.0799, 0.0256];
const labelX = 1.0122;
const annotations = [];
normalStress.forEach((s, i) => {
  const c = colors[i];
  annotations.push({ x: labelX, y: labelY[i], xref: 'paper', yref: 'y', xanchor: 'left', yanchor: 'middle', showarrow: false,
    text: 'σ', font: { family: 'DejaVu Serif', size: 27, style: 'italic', color: c } });
  annotations.push({ x: labelX, xshift: 17, y: labelY[i], yshift: -7, xref: 'paper', yref: 'y', xanchor: 'left', yanchor: 'middle', showarrow: false,
    text: 'n', font: { family: 'DejaVu Serif', size: 19, style: 'italic', color: c } });
  annotations.push({ x: labelX, xshift: 43, y: labelY[i], xref: 'paper', yref: 'y', xanchor: 'left', yanchor: 'middle', showarrow: false,
    text: '= ' + s + ' MPa', font: { family: 'DejaVu Sans', size: 27, color: c } });
  annotations.push({ x: labelX, y: labelY[i] - 0.0128, xref: 'paper', yref: 'y', xanchor: 'left', yanchor: 'middle', showarrow: false,
    text: experimentIds[i], font: { family: 'DejaVu Sans', size: 18, color: c } });
});
const barBottom = 0.2785, barX = 9.34;
annotations.push({ x: 9.44, y: barBottom + scaleBarLength * 0.62, xref: 'x', yref: 'y', xanchor: 'left', yanchor: 'middle', showarrow: false,
  text: String(scaleBarLength), font: { family: 'Lato', size: 66, color: '#000' } });

const shapes = [
  { type: 'rect', xref: 'x', yref: 'y', x0: 9.088, x1: 10.225, y0: 0.2744, y1: 0.3352, fillcolor: '#ffffff', line: { width: 0 }, layer: 'above' },
  { type: 'line', xref: 'x', yref: 'y', x0: barX, x1: barX, y0: barBottom, y1: barBottom + scaleBarLength, line: { color: '#000', width: 4 }, layer: 'above' },
  { type: 'line', xref: 'x', yref: 'y', x0: 9.186, x1: 9.494, y0: barBottom, y1: barBottom, line: { color: '#000', width: 4 }, layer: 'above' },
  { type: 'line', xref: 'x', yref: 'y', x0: 9.186, x1: 9.494, y0: barBottom + scaleBarLength, y1: barBottom + scaleBarLength, line: { color: '#000', width: 4 }, layer: 'above' }
];

const layout = {
  width: 2001, height: 1434,
  margin: { l: 60, r: 223, t: 10, b: 85 },
  paper_bgcolor: '#ffffff', plot_bgcolor: '#ffffff',
  showlegend: false, hovermode: false,
  xaxis: { range: [9, 17], tickmode: 'array', tickvals: tickValues, ticktext: tickValues.map(String),
    ticks: 'inside', ticklen: 8, tickwidth: 2, tickcolor: '#333', showline: true, linecolor: '#333', linewidth: 2,
    showgrid: false, zeroline: false, automargin: false, ticklabelstandoff: -8,
    tickfont: { family: 'DejaVu Sans', size: 30, color: '#000' },
    title: { text: 'Load Point Displacement [mm]', font: { family: 'DejaVu Sans', size: 41, color: '#000' }, standoff: 12 } },
  yaxis: { range: [0, 0.4905], showline: true, linecolor: '#333', linewidth: 2, ticks: '', showticklabels: false,
    showgrid: false, zeroline: false, automargin: false,
    title: { text: 'Friction', font: { family: 'DejaVu Sans', size: 41, color: '#000' }, standoff: 0 } },
  shapes: shapes,
  annotations: annotations
};

Plotly.newPlot('chart', traces, layout, { staticPlot: true, displayModeBar: false });
</script>
</body></html>
